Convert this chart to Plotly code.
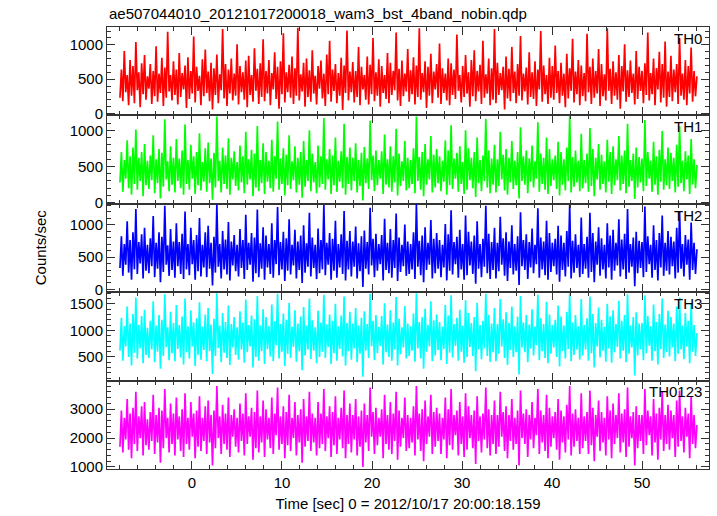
import plotly.graph_objects as go
from plotly.subplots import make_subplots

TITLE = "ae507044010_20121017200018_wam3_bst_4band_nobin.qdp"
X_TITLE = "Time [sec] 0 = 2012/10/17 20:00:18.159"
Y_TITLE = "Counts/sec"
T_START = -8.0
T_END = 56.1

band_names = ["TH0", "TH1", "TH2", "TH3", "TH0123"]
band_colors = ["#FF0000", "#00FF00", "#0000FF", "#00FFFF", "#FF00FF"]

th0 = [230, 640, 180, 910, 310, 560, 120, 780, 260, 690, 150, 1040, 340, 600, 90, 730, 280, 850, 200, 540,
       360, 720, 140, 620, 250, 980, 170, 580, 300, 810, 110, 670, 230, 1190, 320, 560, 190, 760, 270, 640,
       130, 880, 240, 590, 350, 700, 80, 820, 210, 620, 290, 1120, 160, 680, 330, 550, 120, 790, 250, 930,
       300, 610, 180, 740, 60, 660, 270, 860, 150, 570, 340, 1230, 220, 720, 110, 640, 290, 800, 190, 580,
       260, 1010, 130, 690, 310, 600, 200, 770, 90, 840, 270, 560, 170, 950, 330, 650, 140, 730, 240, 1080,
       180, 620, 290, 780, 120, 590, 350, 890, 210, 680, 70, 760, 280, 1170, 160, 600, 310, 710, 230, 830,
       140, 660, 260, 1250, 190, 570, 320, 740, 100, 800, 240, 630, 170, 920, 290, 550, 130, 690, 360, 770,
       220, 580, 110, 860, 280, 1060, 170, 640, 330, 720, 150, 590, 260, 810, 50, 700, 300, 1210, 190, 610,
       310, 750, 160, 620, 240, 970, 120, 680, 350, 560, 200, 830, 130, 710, 280, 1100, 180, 600, 260, 790,
       100, 690, 300, 560, 210, 880, 150, 740, 270, 620, 340, 1180, 190, 650, 110, 770, 250, 580, 320, 940,
       170, 630, 280, 820, 130, 700, 240, 1240, 200, 590, 310, 760, 80, 680, 260, 870, 150, 610, 350, 720,
       230, 1020, 140, 660, 300, 580, 190, 800, 120, 730, 270, 640, 210, 1150, 330, 560, 160, 690, 240, 850,
       290, 600, 100, 780, 250, 920, 180, 620, 320, 710, 140, 1060, 230, 570, 290, 800, 120, 660, 200, 1230,
       150, 740, 270, 590, 340, 680, 60, 830, 220, 650, 180, 970, 300, 610, 150, 720, 260, 1130, 190, 580,
       320, 670, 130, 890, 240, 600, 210, 760, 110, 640, 350, 1200, 170, 700, 280, 560, 140, 810, 230, 690,
       200, 990, 300, 620, 150, 740, 260, 580, 90, 870, 220, 660, 330, 1090, 160, 610, 280, 780, 120, 700,
       250, 590, 180, 1160, 310, 680, 140, 800, 230, 620, 290, 940, 110, 720, 250, 570, 190, 1240, 330, 650,
       140, 760, 260, 600, 200, 850, 70, 690, 320, 1010, 170, 630, 240, 770, 300, 580, 130, 910, 210, 680,
       330, 620, 150, 730, 270, 1180, 190, 590, 280, 800, 120, 660, 350, 900, 160, 720, 230, 1050, 100, 610,
       240, 840, 180, 640, 310, 720, 140, 1100, 260, 580, 200, 780, 120, 690, 290, 960, 170, 620, 250, 540]

th1 = [280, 700, 150, 590, 330, 860, 200, 640, 110, 760, 260, 1010, 180, 620, 300, 700, 90, 810, 240, 580,
       190, 650, 310, 930, 130, 600, 270, 740, 60, 690, 220, 1150, 320, 570, 160, 780, 250, 620, 140, 880,
       300, 610, 200, 720, 110, 1080, 260, 590, 180, 800, 330, 640, 120, 700, 240, 960, 170, 560, 290, 750,
       150, 830, 270, 610, 40, 690, 210, 1190, 300, 580, 140, 760, 260, 650, 190, 890, 110, 620, 320, 710,
       230, 560, 170, 790, 280, 640, 130, 980, 250, 600, 320, 730, 90, 680, 210, 1060, 160, 590, 270, 820,
       120, 700, 290, 580, 200, 870, 150, 640, 330, 1120, 180, 610, 260, 750, 100, 660, 240, 930, 190, 570,
       310, 780, 140, 620, 250, 700, 70, 850, 220, 590, 300, 1000, 160, 680, 280, 560, 130, 790, 210, 640,
       260, 1170, 180, 600, 320, 740, 120, 650, 240, 900, 150, 580, 290, 710, 200, 1090, 110, 630, 260, 760,
       170, 620, 300, 820, 140, 590, 230, 690, 30, 770, 270, 610, 190, 1130, 310, 650, 160, 720, 240, 590,
       330, 710, 120, 940, 250, 600, 210, 780, 150, 640, 280, 1020, 100, 680, 230, 570, 300, 850, 170, 620,
       200, 590, 260, 750, 130, 1190, 300, 630, 180, 700, 90, 810, 250, 600, 320, 920, 140, 660, 210, 740,
       270, 640, 160, 580, 290, 860, 110, 720, 240, 1070, 190, 610, 330, 690, 150, 780, 260, 560, 120, 1000,
       180, 750, 310, 620, 200, 700, 80, 900, 270, 590, 160, 650, 300, 1160, 210, 720, 130, 610, 250, 800,
       140, 600, 230, 980, 320, 660, 170, 740, 110, 620, 280, 850, 190, 580, 240, 700, 60, 1040, 300, 640,
       250, 720, 130, 610, 290, 790, 210, 570, 330, 1110, 150, 680, 260, 620, 180, 900, 120, 740, 230, 600,
       310, 650, 190, 840, 100, 700, 250, 600, 170, 760, 300, 1200, 140, 630, 220, 720, 280, 580, 160, 950,
       200, 590, 270, 680, 150, 1030, 230, 740, 90, 620, 320, 810, 180, 660, 260, 570, 140, 870, 290, 700,
       120, 780, 240, 600, 310, 920, 170, 650, 260, 720, 130, 1090, 220, 590, 300, 680, 50, 760, 210, 630,
       280, 610, 160, 1140, 230, 700, 330, 580, 150, 840, 250, 640, 110, 730, 290, 990, 180, 600, 240, 760,
       190, 690, 300, 620, 140, 800, 220, 1060, 270, 580, 160, 710, 320, 650, 120, 880, 250, 600, 200, 520]

th2 = [330, 820, 210, 700, 380, 1050, 260, 760, 150, 880, 310, 1240, 240, 730, 400, 850, 170, 950, 290, 690,
       250, 790, 360, 1130, 190, 720, 320, 880, 110, 810, 270, 1290, 380, 680, 210, 930, 300, 740, 180, 1020,
       360, 730, 240, 860, 160, 1200, 310, 700, 220, 950, 390, 760, 150, 840, 280, 1100, 200, 690, 340, 880,
       190, 980, 320, 720, 60, 810, 260, 1310, 350, 700, 170, 900, 310, 770, 230, 1040, 140, 740, 370, 840,
       280, 690, 200, 930, 330, 760, 160, 1150, 300, 720, 380, 870, 120, 800, 250, 1230, 190, 710, 320, 960,
       150, 830, 340, 700, 240, 1020, 180, 760, 390, 1270, 220, 730, 310, 890, 130, 790, 290, 1080, 230, 690,
       370, 920, 170, 740, 300, 830, 100, 990, 260, 710, 350, 1180, 200, 800, 330, 690, 160, 940, 250, 760,
       310, 1300, 220, 720, 380, 870, 150, 780, 290, 1060, 180, 700, 340, 850, 240, 1210, 140, 750, 310, 900,
       200, 740, 350, 970, 170, 710, 280, 820, 40, 910, 320, 730, 230, 1260, 370, 780, 190, 860, 290, 700,
       390, 840, 140, 1090, 300, 720, 250, 930, 180, 760, 330, 1170, 130, 800, 270, 690, 360, 1000, 210, 740,
       240, 700, 310, 880, 160, 1320, 350, 750, 220, 830, 110, 960, 300, 720, 380, 1070, 170, 780, 250, 870,
       320, 760, 190, 690, 340, 1010, 140, 850, 290, 1220, 230, 730, 390, 810, 180, 920, 310, 700, 150, 1140,
       220, 890, 370, 740, 240, 830, 90, 1050, 320, 700, 190, 780, 350, 1290, 250, 860, 160, 730, 300, 950,
       170, 720, 280, 1120, 380, 790, 210, 880, 130, 740, 330, 990, 230, 700, 290, 820, 70, 1190, 360, 760,
       300, 850, 160, 730, 340, 940, 250, 690, 390, 1250, 180, 800, 310, 740, 220, 1060, 150, 870, 270, 720,
       360, 780, 230, 980, 120, 830, 300, 720, 200, 900, 350, 1300, 170, 750, 260, 850, 330, 690, 190, 1110,
       240, 700, 320, 810, 180, 1180, 270, 870, 110, 740, 380, 960, 210, 790, 310, 690, 170, 1020, 340, 830,
       150, 920, 290, 720, 370, 1080, 200, 770, 310, 860, 160, 1240, 260, 700, 350, 800, 50, 890, 250, 750,
       330, 730, 190, 1280, 270, 820, 390, 690, 180, 990, 300, 760, 140, 870, 340, 1140, 210, 720, 290, 900,
       230, 810, 360, 740, 170, 950, 260, 1200, 320, 700, 200, 840, 380, 770, 150, 1030, 300, 720, 240, 620]

th3 = [620, 1240, 430, 1080, 700, 1450, 500, 1130, 340, 1310, 580, 1620, 470, 1100, 660, 1270, 380, 1390, 540, 1050,
       480, 1180, 640, 1550, 400, 1090, 600, 1290, 280, 1200, 520, 1680, 690, 1060, 440, 1350, 570, 1140, 420, 1480,
       650, 1100, 490, 1260, 360, 1600, 590, 1080, 470, 1380, 700, 1150, 330, 1230, 540, 1530, 450, 1070, 630, 1300,
       420, 1420, 610, 1110, 180, 1220, 520, 1700, 670, 1090, 400, 1330, 580, 1160, 480, 1470, 350, 1120, 680, 1250,
       540, 1060, 450, 1360, 640, 1150, 390, 1580, 590, 1100, 700, 1280, 300, 1210, 500, 1650, 430, 1090, 610, 1400,
       370, 1250, 650, 1080, 510, 1490, 420, 1170, 720, 1690, 470, 1120, 600, 1320, 330, 1200, 560, 1520, 480, 1070,
       690, 1380, 410, 1130, 610, 1260, 250, 1440, 530, 1090, 640, 1600, 460, 1190, 620, 1060, 380, 1370, 500, 1150,
       600, 1670, 480, 1110, 690, 1300, 370, 1180, 570, 1500, 430, 1080, 650, 1280, 510, 1640, 340, 1140, 610, 1350,
       450, 1130, 660, 1420, 400, 1090, 560, 1240, 130, 1360, 620, 1120, 480, 1690, 700, 1180, 440, 1290, 570, 1070,
       710, 1270, 360, 1510, 590, 1110, 500, 1380, 430, 1150, 640, 1630, 340, 1220, 550, 1060, 680, 1460, 470, 1130,
       520, 1080, 620, 1320, 410, 1700, 660, 1160, 470, 1250, 280, 1410, 600, 1100, 700, 1550, 420, 1190, 530, 1300,
       630, 1160, 440, 1070, 650, 1480, 370, 1280, 580, 1660, 490, 1120, 710, 1240, 430, 1390, 600, 1090, 390, 1570,
       500, 1330, 690, 1140, 520, 1250, 230, 1520, 640, 1100, 460, 1180, 660, 1690, 520, 1290, 410, 1130, 590, 1420,
       420, 1120, 560, 1590, 700, 1210, 480, 1340, 350, 1140, 630, 1450, 500, 1080, 590, 1260, 170, 1650, 680, 1150,
       590, 1290, 400, 1110, 660, 1400, 530, 1070, 720, 1670, 440, 1230, 610, 1120, 480, 1540, 380, 1300, 560, 1100,
       680, 1200, 500, 1470, 320, 1260, 610, 1090, 470, 1350, 650, 1700, 420, 1150, 540, 1290, 640, 1080, 450, 1590,
       530, 1100, 640, 1230, 430, 1640, 570, 1310, 300, 1140, 700, 1430, 490, 1200, 620, 1070, 410, 1500, 660, 1260,
       390, 1380, 590, 1120, 690, 1560, 470, 1180, 620, 1290, 400, 1680, 560, 1090, 680, 1250, 150, 1340, 530, 1130,
       640, 1140, 440, 1660, 570, 1270, 710, 1080, 430, 1490, 610, 1160, 360, 1310, 650, 1600, 480, 1110, 590, 1370,
       510, 1250, 680, 1130, 420, 1450, 560, 1620, 640, 1090, 460, 1330, 700, 1180, 380, 1510, 600, 1100, 520, 950]

th0123 = [1700, 2950, 1500, 2700, 1950, 3350, 1600, 2850, 1300, 3050, 1800, 3600, 1550, 2750, 2000, 3100, 1400, 3250, 1750, 2650,
          1600, 2900, 1900, 3500, 1450, 2800, 1850, 3050, 1150, 2950, 1650, 3700, 2000, 2700, 1500, 3200, 1800, 2850, 1400, 3400,
          1950, 2750, 1550, 3000, 1350, 3550, 1800, 2700, 1600, 3250, 2050, 2850, 1300, 2950, 1700, 3450, 1550, 2700, 1900, 3100,
          1450, 3300, 1850, 2800, 1050, 2950, 1650, 3800, 2000, 2750, 1450, 3150, 1800, 2850, 1600, 3400, 1350, 2800, 2050, 3000,
          1700, 2700, 1500, 3200, 1900, 2850, 1400, 3550, 1800, 2750, 2050, 3050, 1250, 2900, 1650, 3650, 1500, 2750, 1850, 3300,
          1350, 3000, 1950, 2700, 1650, 3400, 1450, 2850, 2100, 3750, 1600, 2750, 1800, 3100, 1300, 2900, 1750, 3500, 1550, 2700,
          2000, 3250, 1400, 2800, 1850, 3000, 1150, 3350, 1700, 2750, 1900, 3600, 1550, 2850, 1850, 2700, 1400, 3250, 1650, 2850,
          1800, 3700, 1550, 2750, 2000, 3100, 1350, 2900, 1750, 3450, 1450, 2700, 1950, 3050, 1650, 3650, 1300, 2800, 1800, 3200,
          1500, 2800, 1950, 3350, 1400, 2750, 1700, 2950, 1000, 3200, 1850, 2800, 1550, 3750, 2050, 2900, 1450, 3050, 1750, 2700,
          2050, 3000, 1300, 3500, 1800, 2800, 1600, 3250, 1450, 2850, 1900, 3600, 1250, 2950, 1700, 2700, 2000, 3400, 1550, 2800,
          1650, 2700, 1850, 3100, 1400, 3800, 1950, 2850, 1550, 3000, 1200, 3300, 1800, 2750, 2050, 3500, 1450, 2900, 1700, 3050,
          1900, 2850, 1450, 2700, 1950, 3400, 1300, 3000, 1750, 3700, 1600, 2800, 2100, 2950, 1400, 3250, 1800, 2750, 1350, 3550,
          1600, 3100, 2000, 2800, 1650, 2950, 1100, 3450, 1900, 2750, 1500, 2850, 1950, 3750, 1650, 3000, 1400, 2800, 1800, 3300,
          1450, 2800, 1700, 3600, 2050, 2900, 1550, 3100, 1300, 2800, 1900, 3350, 1600, 2700, 1800, 2950, 1050, 3650, 2000, 2850,
          1800, 3000, 1350, 2800, 1950, 3250, 1650, 2700, 2100, 3700, 1450, 2950, 1850, 2800, 1550, 3500, 1300, 3050, 1700, 2750,
          2000, 2900, 1600, 3350, 1250, 2950, 1850, 2750, 1500, 3150, 1950, 3800, 1400, 2850, 1700, 3000, 1900, 2700, 1450, 3550,
          1650, 2750, 1900, 2900, 1450, 3650, 1750, 3050, 1200, 2800, 2050, 3300, 1550, 2900, 1850, 2700, 1400, 3450, 1950, 2950,
          1300, 3200, 1800, 2800, 2000, 3550, 1500, 2850, 1850, 3000, 1350, 3750, 1700, 2750, 2000, 2900, 1050, 3100, 1650, 2800,
          1900, 2800, 1450, 3700, 1750, 2950, 2100, 2750, 1400, 3350, 1850, 2850, 1250, 3050, 1950, 3600, 1550, 2800, 1800, 3150,
          1600, 2950, 2000, 2800, 1350, 3300, 1700, 3650, 1900, 2750, 1500, 3050, 2050, 2850, 1300, 3450, 1800, 2800, 1650, 2450]

series = [th0, th1, th2, th3, th0123]
y_ranges = [[-28, 1260], [-15, 1205], [-42, 1320], [55, 1720], [930, 3990]]
y_dticks = [500, 500, 500, 500, 1000]
y_minor = [100, 100, 100, 100, 200]
x_range = [-9.44, 57.44]

FONT = "Liberation Sans, Arial, Helvetica, sans-serif"
AX = "#333333"

fig = make_subplots(rows=5, cols=1, shared_xaxes=True, vertical_spacing=0)

for i, vals in enumerate(series):
    step = (T_END - T_START) / (len(vals) - 1)
    t = [T_START + k * step for k in range(len(vals))]
    fig.add_trace(go.Scatter(x=t, y=vals, mode="lines",
                             line=dict(color=band_colors[i], width=1.7),
                             showlegend=False, hoverinfo="skip"),
                  row=i + 1, col=1)
    fig.update_yaxes(range=y_ranges[i], dtick=y_dticks[i], row=i + 1, col=1,
                     minor=dict(dtick=y_minor[i], ticks="inside", ticklen=4, tickcolor=AX, tickwidth=1))
    fig.update_xaxes(range=x_range, row=i + 1, col=1, showticklabels=(i == 4),
                     dtick=10, tick0=0,
                     minor=dict(dtick=2, ticks="inside", ticklen=4, tickcolor=AX, tickwidth=1))
    suffix = "" if i == 0 else str(i + 1)
    fig.add_annotation(text=band_names[i], xref=f"x{suffix} domain", yref=f"y{suffix} domain",
                       x=0.992, y=0.99, xanchor="right", yanchor="top", showarrow=False,
                       font=dict(size=15, color="black", family=FONT))

fig.update_xaxes(showline=True, linecolor=AX, linewidth=1, mirror="allticks",
                 ticks="inside", ticklen=8, tickcolor=AX, tickwidth=1,
                 showgrid=False, zeroline=False,
                 tickfont=dict(size=15, color="black", family=FONT))
fig.update_yaxes(showline=True, linecolor=AX, linewidth=1, mirror="allticks",
                 ticks="inside", ticklen=8, tickcolor=AX, tickwidth=1,
                 showgrid=False, zeroline=False,
                 tickfont=dict(size=15, color="black", family=FONT))

fig.update_xaxes(title=dict(text=X_TITLE, font=dict(size=15, color="black", family=FONT), standoff=8),
                 row=5, col=1)

fig.add_annotation(text=Y_TITLE, xref="paper", yref="paper", x=-0.111, y=0.502,
                   textangle=-90, showarrow=False, xanchor="center", yanchor="middle",
                   font=dict(size=15, color="black", family=FONT))
fig.add_annotation(text=TITLE, xref="paper", yref="paper", x=0.0, y=1.03,
                   xanchor="left", yanchor="middle", showarrow=False,
                   font=dict(size=15, color="black", family=FONT))

fig.update_layout(width=717, height=516, margin=dict(l=107, r=7, t=27, b=41),
                  paper_bgcolor="white", plot_bgcolor="white")

fig.write_html("out.html", config={"displayModeBar": False},
               post_script="document.body.style.margin='0';")
